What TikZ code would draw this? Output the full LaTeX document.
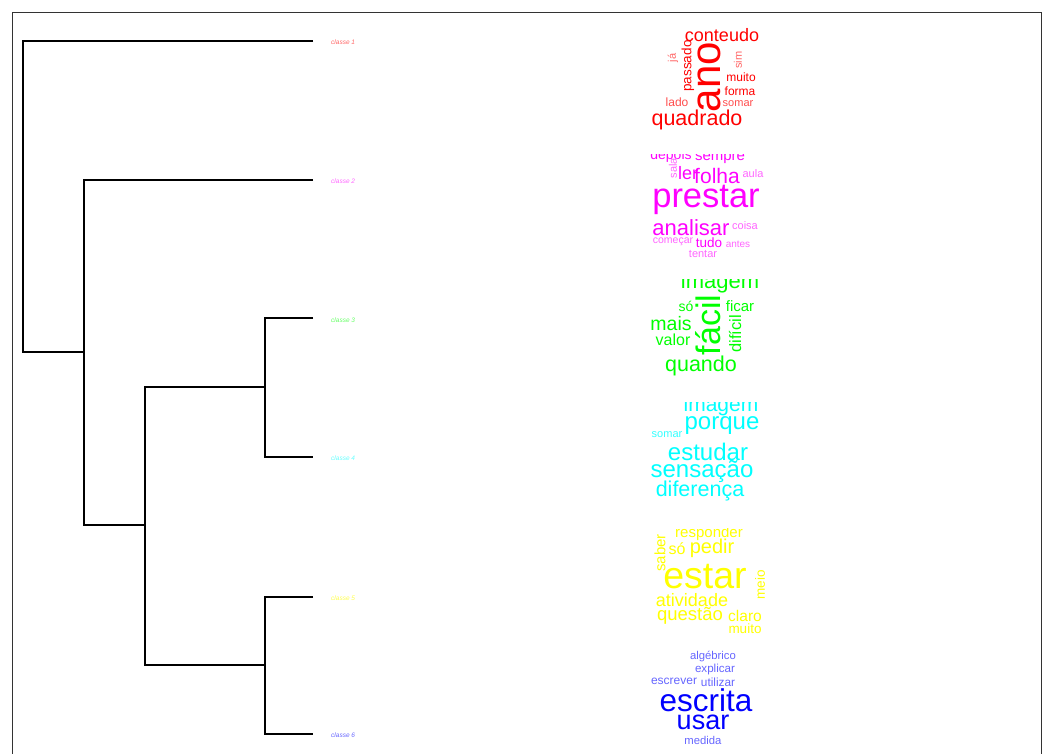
\documentclass[tikz,border=0pt]{standalone}
\usepackage{fontspec}
\setmainfont{Liberation Sans}
\usepackage{xcolor}
\usepackage{tikz}
\usetikzlibrary{positioning}

\definecolor{cred}{HTML}{FF0000}
\definecolor{cmag}{HTML}{FF00FF}
\definecolor{cgreen}{HTML}{00FF00}
\definecolor{ccyan}{HTML}{00FFFF}
\definecolor{cyell}{HTML}{FFFF00}
\definecolor{cblue}{HTML}{0000FF}

\begin{document}
\begin{tikzpicture}[
    x=1pt, y=-1pt,
    branch/.style={draw=black, line width=1.2pt},
    frame/.style={draw=black!80, line width=0.8pt},
    leaflab/.style={anchor=west, inner sep=0pt, font=\fontsize{6.5}{6.5}\selectfont\itshape},
    word/.style={inner sep=0pt, font=\fontsize{#1}{#1}\selectfont}
]
\useasboundingbox (0,0) rectangle (1044,754);
\draw[frame] (12,754) -- (12,12) -- (1041,12) -- (1041,754);

% dendrogram
\coordinate (l1) at (313,41);
\coordinate (l2) at (313,180);
\coordinate (l3) at (313,318);
\coordinate (l4) at (313,457);
\coordinate (l5) at (313,597);
\coordinate (l6) at (313,734);
\coordinate (k3) at (265,387);
\coordinate (k4) at (265,665);
\coordinate (k2) at (145,525);
\coordinate (k1) at (84,352);
\coordinate (root) at (23,196);
\draw[branch] (l3) -| (k3) |- (l4);
\draw[branch] (l5) -| (k4) |- (l6);
\draw[branch] (k3) -| (k2) |- (k4);
\draw[branch] (l2) -| (k1) |- (k2);
\draw[branch] (l1) -| (root) |- (k1);

\node[leaflab, cred!60] (c1) at (331,42) {classe 1};
\node[leaflab, cmag!60] (c2) at (331,181) {classe 2};
\node[leaflab, cgreen!60] (c3) at (331,320) {classe 3};
\node[leaflab, ccyan!60] (c4) at (331,458) {classe 4};
\node[leaflab, cyell!70] (c5) at (331,598) {classe 5};
\node[leaflab, cblue!60] (c6) at (331,735) {classe 6};

% classe 1
\node[word=18, cred] (w11) at (722,35) {conteudo};
\node[word=42, cred, rotate=90] (w12) at (709,77) {ano};
\node[word=13.5, cred, rotate=90] (w13) at (688,66) {passado};
\node[word=11, cred!60, rotate=90] (w14) at (673,58) {já};
\node[word=11, cred!60, rotate=90] (w15) at (738,60) {sim};
\node[word=12, cred] (w16) at (741,77) {muito};
\node[word=12, cred] (w17) at (740,91) {forma};
\node[word=11, cred!70] (w18) at (738,104) {somar};
\node[word=12, cred!70] (w19) at (677,102) {lado};
\node[word=21.5, cred] (w110) at (697,120) {quadrado};

% classe 2
\begin{scope}
\clip (640,154.5) rectangle (780,270);
\node[word=14, cmag, anchor=base] (w21) at (671,160) {depois};
\node[word=15, cmag, anchor=base] (w22) at (720,160.5) {sempre};
\end{scope}
\node[word=11, cmag!60, rotate=90] (w23) at (673,168) {sala};
\node[word=18, cmag] (w24) at (688,173) {ler};
\node[word=21, cmag] (w25) at (717,176) {folha};
\node[word=11, cmag!60] (w26) at (753,174) {aula};
\node[word=34.5, cmag] (w27) at (706,200) {prestar};
\node[word=22, cmag] (w28) at (691,228) {analisar};
\node[word=11, cmag!60] (w29) at (745,226) {coisa};
\node[word=10.5, cmag!60] (w210) at (673,242) {começar};
\node[word=13.5, cmag] (w211) at (709,243) {tudo};
\node[word=10, cmag!60] (w212) at (738,244) {antes};
\node[word=11, cmag!60] (w213) at (703,254) {tentar};

% classe 3
\begin{scope}
\clip (640,279) rectangle (780,390);
\node[word=22, cgreen, anchor=base] (w31) at (720,288) {imagem};
\end{scope}
\node[word=14, cgreen] (w32) at (686,306) {só};
\node[word=34, cgreen, rotate=90] (w33) at (708,325) {fácil};
\node[word=15, cgreen] (w34) at (740,306) {ficar};
\node[word=19.5, cgreen] (w35) at (671,324) {mais};
\node[word=16.5, cgreen, rotate=90] (w36) at (735,334) {difícil};
\node[word=16, cgreen] (w37) at (673,340) {valor};
\node[word=21.5, cgreen] (w38) at (701,366) {quando};

% classe 4
\begin{scope}
\clip (640,402) rectangle (780,510);
\node[word=21, ccyan, anchor=base] (w41) at (721,411) {imagem};
\end{scope}
\node[word=11, ccyan!80] (w42) at (667,435) {somar};
\node[word=24, ccyan] (w43) at (722,426) {porque};
\node[word=24, ccyan] (w44) at (708,452) {estudar};
\node[word=24, ccyan] (w45) at (702,471) {sensação};
\node[word=21.5, ccyan] (w46) at (700,491) {diferença};

% classe 5
\begin{scope}
\clip (640,528) rectangle (780,640);
\node[word=15, cyell, anchor=base] (w51) at (709,537) {responder};
\end{scope}
\node[word=15, cyell, rotate=90] (w52) at (660,553) {saber};
\node[word=16, cyell] (w53) at (677,549) {só};
\node[word=20, cyell] (w54) at (712,548) {pedir};
\node[word=37.5, cyell] (w55) at (705,577) {estar};
\node[word=13.5, cyell, rotate=90] (w56) at (760,585) {meio};
\node[word=18, cyell] (w57) at (692,600) {atividade};
\node[word=18.5, cyell] (w58) at (690,616) {questão};
\node[word=15.5, cyell] (w59) at (745,616) {claro};
\node[word=13.5, cyell] (w510) at (745,629) {muito};

% classe 6
\node[word=11.3, cblue!60] (w61) at (713,657) {algébrico};
\node[word=11.6, cblue!60] (w62) at (715,669) {explicar};
\node[word=12, cblue!60] (w63) at (674,681) {escrever};
\node[word=11.8, cblue!60] (w64) at (718,682) {utilizar};
\node[word=31.5, cblue] (w65) at (706,700) {escrita};
\node[word=27, cblue] (w66) at (703,722) {usar};
\node[word=11.3, cblue!60] (w67) at (703,740) {medida};
\end{tikzpicture}
\end{document}
